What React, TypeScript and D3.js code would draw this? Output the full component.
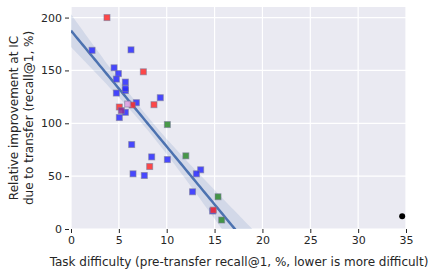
import React, { useEffect, useRef } from "react";
import * as d3 from "d3";

// task difficulty (x) vs relative improvement (y), grouped by colour
const bluePts: [number, number][] = [
  [2.2, 169], [6.27, 169.5], [4.5, 152.5], [4.95, 147], [4.74, 141.8],
  [5.68, 139], [5.68, 131], [5.68, 133], [4.74, 128.6], [9.33, 124.2],
  [6.83, 119.5], [5.68, 110.4], [5.05, 105.4], [6.34, 79.9], [8.43, 68.2],
  [10.07, 65.7], [6.48, 52.2], [7.66, 50.6], [13.55, 56], [13.1, 52.2],
  [12.7, 35.2], [14.8, 17],
];
const redPts: [number, number][] = [
  [3.76, 200], [7.56, 148.7], [5.05, 115.4], [6.4, 117.3], [8.67, 117.6],
  [8.22, 59.1], [14.87, 17.9],
];
const greenPts: [number, number][] = [
  [10.07, 98.8], [12.0, 69.2], [15.36, 30.5], [15.74, 8.5],
];
const pinkPts: [number, number][] = [[5.92, 118.2]];
const purplePts: [number, number][] = [[5.26, 112]];
const outlierPts: [number, number][] = [[34.6, 12]];

const xTicks = [0, 5, 10, 15, 20, 25, 30, 35];
const yTicks = [0, 50, 100, 150, 200];

const groups = [
  { pts: bluePts, color: "#2a2aff" },
  { pts: redPts, color: "#ff2a2a" },
  { pts: greenPts, color: "#2a8a2a" },
  { pts: pinkPts, color: "#e0a0e0" },
  { pts: purplePts, color: "#8a2a9a" },
];

const App = () => {
  const svgRef = useRef<SVGSVGElement>(null);

  useEffect(() => {
    const width = 437;
    const height = 275;
    const left = 71, right = 406, top = 7, bottom = 229;
    const font = "DejaVu Sans, sans-serif";
    const ink = "#262626";

    const svg = d3.select(svgRef.current).attr("width", width).attr("height", height);
    svg.selectAll("*").remove();

    const x = d3.scaleLinear().domain([0, 35]).range([left, right]);
    const y = d3.scaleLinear().domain([0, 210]).range([bottom, top]);

    svg.append("rect")
      .attr("x", left).attr("y", top)
      .attr("width", right - left).attr("height", bottom - top)
      .attr("fill", "#eaeaf2");

    // grid
    svg.append("g").selectAll("line").data(xTicks).join("line")
      .attr("x1", (d) => x(d)).attr("x2", (d) => x(d))
      .attr("y1", top).attr("y2", bottom)
      .attr("stroke", "#fff").attr("stroke-width", 1.2);
    svg.append("g").selectAll("line").data(yTicks).join("line")
      .attr("x1", left).attr("x2", right)
      .attr("y1", (d) => y(d)).attr("y2", (d) => y(d))
      .attr("stroke", "#fff").attr("stroke-width", 1.2);

    // regression fit over the coloured points (outlier excluded)
    const fitPts = groups.flatMap((g) => g.pts);
    const n = fitPts.length;
    const mx = d3.mean(fitPts, (d) => d[0])!;
    const my = d3.mean(fitPts, (d) => d[1])!;
    const sxx = d3.sum(fitPts, (d) => (d[0] - mx) ** 2);
    const sxy = d3.sum(fitPts, (d) => (d[0] - mx) * (d[1] - my));
    const slope = sxy / sxx;
    const icpt = my - slope * mx;
    const s = Math.sqrt(d3.sum(fitPts, (d) => (d[1] - (icpt + slope * d[0])) ** 2) / (n - 2));
    const tval = 1.4;
    const grid = d3.range(0, 35.01, 0.25).map((xv) => {
      const yh = icpt + slope * xv;
      const se = s * Math.sqrt(1 / n + (xv - mx) ** 2 / sxx);
      return { xv, yh, lo: yh - tval * se, hi: yh + tval * se };
    });

    svg.append("clipPath").attr("id", "plot-clip")
      .append("rect").attr("x", left).attr("y", top)
      .attr("width", right - left).attr("height", bottom - top);

    const fitG = svg.append("g").attr("clip-path", "url(#plot-clip)");
    fitG.append("path")
      .datum(grid)
      .attr("d", d3.area<any>().x((d) => x(d.xv)).y0((d) => y(d.lo)).y1((d) => y(d.hi)))
      .attr("fill", "#4c72b0").attr("fill-opacity", 0.15);
    fitG.append("path")
      .datum(grid)
      .attr("d", d3.line<any>().x((d) => x(d.xv)).y((d) => y(d.yh)))
      .attr("fill", "none").attr("stroke", "#4c72b0").attr("stroke-width", 2.5);

    // points
    const sz = 6;
    groups.forEach((g) => {
      svg.append("g").selectAll("rect").data(g.pts).join("rect")
        .attr("x", (d) => x(d[0]) - sz / 2).attr("y", (d) => y(d[1]) - sz / 2)
        .attr("width", sz).attr("height", sz)
        .attr("fill", g.color).attr("fill-opacity", 0.85)
        .attr("stroke", "#7a7a9a").attr("stroke-opacity", 0.6).attr("stroke-width", 1);
    });
    svg.append("g").selectAll("circle").data(outlierPts).join("circle")
      .attr("cx", (d) => x(d[0])).attr("cy", (d) => y(d[1]))
      .attr("r", 3).attr("fill", "#000");

    // axes
    const xAxis = svg.append("g").attr("transform", `translate(0,${bottom})`)
      .call(d3.axisBottom(x).tickValues(xTicks).tickSize(4).tickPadding(3));
    const yAxis = svg.append("g").attr("transform", `translate(${left - 2},0)`)
      .call(d3.axisLeft(y).tickValues(yTicks).tickSize(4).tickPadding(3));
    [xAxis, yAxis].forEach((a) => {
      a.select(".domain").remove();
      a.selectAll("line").attr("stroke", ink);
      a.selectAll("text").attr("fill", ink).style("font-family", font).style("font-size", "11px");
    });

    svg.append("text")
      .attr("x", 239).attr("y", 266)
      .attr("text-anchor", "middle")
      .attr("fill", ink).style("font-family", font).style("font-size", "12px")
      .text("Task difficulty (pre-transfer recall@1, %, lower is more difficult)");

    const ylab = svg.append("text")
      .attr("transform", `translate(18,${(top + bottom) / 2}) rotate(-90)`)
      .attr("text-anchor", "middle")
      .attr("fill", ink).style("font-family", font).style("font-size", "12px");
    ylab.append("tspan").attr("x", 0).attr("dy", 0).text("Relative improvement at IC");
    ylab.append("tspan").attr("x", 0).attr("dy", 15).text("due to transfer (recall@1, %)");
  }, []);

  return (
    <div style={{ position: "absolute", left: 0, top: 0 }}>
      <svg ref={svgRef} style={{ display: "block" }}></svg>
    </div>
  );
};

export default App;
